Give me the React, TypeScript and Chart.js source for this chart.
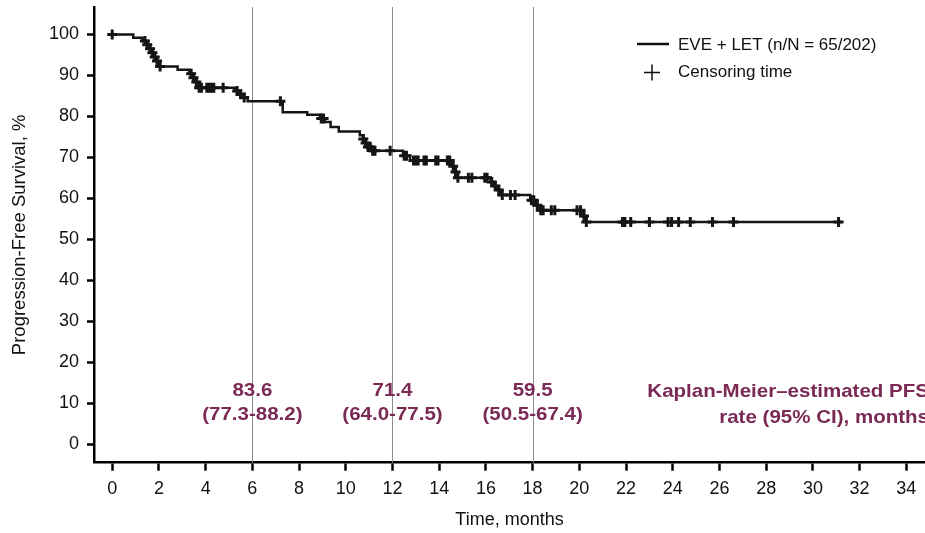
import React, { useEffect, useRef } from "react";
import { Chart, registerables } from "chart.js";

Chart.register(...registerables);

// Kaplan-Meier step curve (event times, survival % after each event)
const KM_TIMES = [0, 0.9, 1.3, 1.5, 1.6, 1.7, 1.8, 1.9, 2.0, 2.8, 3.3, 3.45, 3.55, 3.7, 5.25, 5.45, 5.6, 5.8, 7.3, 8.35, 8.9, 9.1, 9.35, 9.7, 10.6, 10.75, 10.85, 10.95, 11.1, 12.45, 12.75, 14.55, 14.65, 14.75, 16.2, 16.35, 16.5, 16.65, 17.9, 18.1, 18.3, 20.1, 20.3, 31.2];
const KM_SURVIVAL = [100, 99.2, 98.4, 97.5, 96.5, 95.5, 94.5, 93.5, 92.2, 91.4, 90.4, 89.4, 88.4, 87.0, 86.2, 85.4, 84.6, 83.7, 81.0, 80.4, 79.5, 78.6, 77.4, 76.3, 75.4, 74.5, 73.5, 72.5, 71.6, 70.4, 69.2, 67.8, 66.4, 65.0, 64.0, 63.0, 62.0, 60.8, 59.5, 58.3, 57.1, 55.7, 54.2, 54.2];

// Censoring times (months)
const CENSOR_TIMES = [0, 1.4, 1.5, 1.62, 1.72, 1.82, 1.92, 2.05, 3.38, 3.48, 3.6, 3.72, 3.82, 4.05, 4.15, 4.25, 4.35, 4.75, 5.35, 5.5, 5.65, 7.2, 8.95, 9.05, 10.75, 10.85, 10.95, 11.05, 11.15, 11.25, 11.9, 12.5, 12.6, 12.9, 13.0, 13.1, 13.35, 13.45, 13.85, 13.95, 14.35, 14.45, 14.6, 14.7, 14.8, 15.25, 15.4, 15.95, 16.05, 16.25, 16.4, 16.55, 16.7, 17.05, 17.25, 17.95, 18.05, 18.2, 18.35, 18.45, 18.8, 18.95, 19.9, 20.05, 20.2, 20.3, 21.85, 21.95, 22.2, 23.0, 23.8, 23.95, 24.25, 24.75, 25.7, 26.6, 31.1];

const X_TICKS = [0, 2, 4, 6, 8, 10, 12, 14, 16, 18, 20, 22, 24, 26, 28, 30, 32, 34];
const Y_TICKS = [0, 10, 20, 30, 40, 50, 60, 70, 80, 90, 100];

const MILESTONE_MONTHS = [6, 12, 18];
const MILESTONE_RATES = ["83.6", "71.4", "59.5"];
const MILESTONE_CI = ["(77.3-88.2)", "(64.0-77.5)", "(50.5-67.4)"];

const LEGEND_LINE = "EVE + LET (n/N = 65/202)";
const LEGEND_CENSOR = "Censoring time";
const NOTE_LINES = ["Kaplan-Meier\u2013estimated PFS", "rate (95% CI), months"];

const FONT = '"Liberation Sans", Arial, Helvetica, sans-serif';
const MAROON = "#7a2a55";

function survivalAt(t: number): number {
  let v = KM_SURVIVAL[0];
  for (let i = 0; i < KM_TIMES.length; i++) {
    if (KM_TIMES[i] <= t) v = KM_SURVIVAL[i];
  }
  return v;
}

const overlayPlugin = {
  id: "kmOverlay",
  beforeDatasetsDraw(chart: any) {
    const { ctx, chartArea, scales } = chart;
    ctx.save();
    ctx.strokeStyle = "#8c8c8c";
    ctx.lineWidth = 1;
    MILESTONE_MONTHS.forEach((m) => {
      const x = Math.round(scales.x.getPixelForValue(m)) + 0.5;
      ctx.beginPath();
      ctx.moveTo(x, chartArea.top);
      ctx.lineTo(x, chartArea.bottom);
      ctx.stroke();
    });
    ctx.restore();
  },
  afterDraw(chart: any) {
    const { ctx, scales } = chart;
    ctx.save();
    ctx.fillStyle = MAROON;
    ctx.textBaseline = "middle";
    ctx.font = `bold 19px ${FONT}`;
    const drawStretched = (txt: string, x: number, y: number, align: CanvasTextAlign) => {
      ctx.save();
      ctx.translate(x, y);
      ctx.scale(1.08, 1);
      ctx.textAlign = align;
      ctx.fillText(txt, 0, 0);
      ctx.restore();
    };
    MILESTONE_MONTHS.forEach((m, i) => {
      const x = scales.x.getPixelForValue(m);
      drawStretched(MILESTONE_RATES[i], x, 391, "center");
      drawStretched(MILESTONE_CI[i], x, 415, "center");
    });
    drawStretched(NOTE_LINES[0], 929, 392, "right");
    drawStretched(NOTE_LINES[1], 929, 418, "right");

    // legend
    ctx.strokeStyle = "#111";
    ctx.lineWidth = 2.5;
    ctx.beginPath();
    ctx.moveTo(637, 44);
    ctx.lineTo(669, 44);
    ctx.stroke();
    ctx.lineWidth = 1.5;
    ctx.beginPath();
    ctx.moveTo(644, 72.5);
    ctx.lineTo(660, 72.5);
    ctx.moveTo(652, 64.5);
    ctx.lineTo(652, 80.5);
    ctx.stroke();
    ctx.fillStyle = "#111";
    ctx.font = `17px ${FONT}`;
    ctx.textAlign = "left";
    ctx.textBaseline = "middle";
    ctx.fillText(LEGEND_LINE, 678, 45);
    ctx.fillText(LEGEND_CENSOR, 678, 72);
    ctx.restore();
  },
};

export default function App() {
  const canvasRef = useRef<HTMLCanvasElement | null>(null);

  useEffect(() => {
    if (!canvasRef.current) return;
    const kmData = KM_TIMES.map((t, i) => ({ x: t, y: KM_SURVIVAL[i] }));
    const censorData = CENSOR_TIMES.map((t) => ({ x: t, y: survivalAt(t) }));

    const chart = new Chart(canvasRef.current, {
      type: "line",
      data: {
        datasets: [
          {
            label: "Censoring time",
            data: censorData,
            showLine: false,
            pointStyle: "cross",
            pointRadius: 5,
            pointBorderWidth: 3,
            pointBorderColor: "#151515",
            pointBackgroundColor: "#151515",
          } as any,
          {
            label: LEGEND_LINE,
            data: kmData,
            stepped: "before",
            borderColor: "#151515",
            borderWidth: 2.5,
            pointRadius: 0,
            fill: false,
          } as any,
        ],
      },
      options: {
        animation: false,
        responsive: true,
        maintainAspectRatio: false,
        layout: { autoPadding: false, padding: { top: 7, left: 0, right: 0, bottom: 0 } },
        plugins: {
          legend: { display: false },
          tooltip: { enabled: false },
        },
        scales: {
          x: {
            type: "linear",
            min: -0.78,
            max: 34.8,
            afterBuildTicks: (scale: any) => {
              scale.ticks = X_TICKS.map((v) => ({ value: v }));
            },
            afterFit: (scale: any) => {
              scale.height = 70.3;
              scale.paddingLeft = 0;
              scale.paddingRight = 0;
            },
            grid: {
              drawOnChartArea: false,
              drawTicks: true,
              tickLength: 8,
              tickWidth: 2.5,
              tickColor: "#000",
            },
            border: { display: true, color: "#000", width: 2.5 },
            ticks: {
              color: "#111",
              font: { family: FONT, size: 18 },
              padding: 8,
              maxRotation: 0,
              autoSkip: false,
            },
            title: {
              display: true,
              text: "Time, months",
              color: "#111",
              font: { family: FONT, size: 18 },
              padding: { top: 0, bottom: 2 },
            },
          },
          y: {
            type: "linear",
            min: -4.56,
            max: 106.7,
            afterBuildTicks: (scale: any) => {
              scale.ticks = Y_TICKS.map((v) => ({ value: v }));
            },
            afterFit: (scale: any) => {
              scale.width = 94;
              scale.paddingTop = 0;
              scale.paddingBottom = 0;
            },
            grid: {
              drawOnChartArea: false,
              drawTicks: true,
              tickLength: 7,
              tickWidth: 2.5,
              tickColor: "#000",
            },
            border: { display: true, color: "#000", width: 2.5 },
            ticks: {
              color: "#111",
              font: { family: FONT, size: 18 },
              padding: 8,
              autoSkip: false,
            },
            title: {
              display: true,
              text: "Progression-Free Survival, %",
              color: "#111",
              font: { family: FONT, size: 18.5 },
              padding: { top: 9, bottom: 0 },
            },
          },
        },
      },
      plugins: [overlayPlugin],
    });

    return () => {
      chart.destroy();
    };
  }, []);

  return (
    <div
      style={{
        position: "fixed",
        left: 0,
        top: 0,
        width: 925,
        height: 533,
        background: "#fff",
      }}
    >
      <canvas ref={canvasRef} />
    </div>
  );
}
